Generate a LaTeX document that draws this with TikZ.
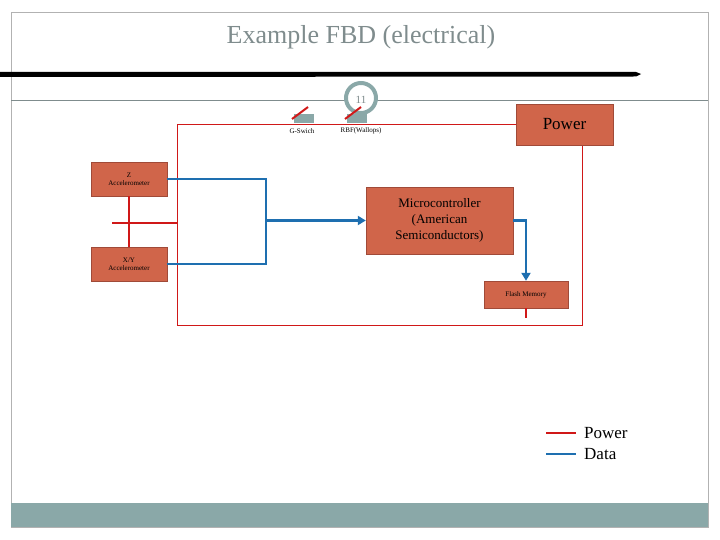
\documentclass[tikz,border=0pt]{standalone}
\usepackage{fontspec}
\setmainfont{Liberation Serif}
\usetikzlibrary{arrows.meta}
\definecolor{boxc}{HTML}{D0654A}
\definecolor{boxb}{HTML}{A04A38}
\definecolor{pw}{HTML}{D01818}
\definecolor{dt}{HTML}{1E6FB0}
\definecolor{gr}{HTML}{8AA8A8}
\definecolor{tg}{HTML}{7F8C8D}
\begin{document}
\begin{tikzpicture}[x=1pt,y=-1pt,
  blk/.style={draw=boxb,fill=boxc,inner sep=0pt,align=center},
  pwr/.style={draw=pw,line width=2.5pt},
  dat/.style={draw=dt,line width=2.5pt},
  tiny/.style={font=\fontsize{7}{8}\selectfont,align=center}]
\useasboundingbox (0,0) rectangle (720,540);
\draw[gray!60] (11,12) rectangle (708,527);
\fill[gr] (11,503) rectangle (708,527);
\node[text=tg,font=\fontsize{26}{28}\selectfont] (title) at (361,37) {Example FBD (electrical)};
\fill (0,72) -- (636,72) -- (641,74) -- (636,76.5) -- (0,77) -- cycle;
\draw[tg] (11,100) -- (708,100);
\draw[gr,line width=4pt,fill=white] (361,98) circle (15);
\node[text=tg,font=\fontsize{11}{12}\selectfont] (pg) at (361,100) {11};
% red frame
\draw[pw,thin] (516,124) -- (177,124) -- (177,325) -- (582,325) -- (582,145);
\node[blk,minimum width=97,minimum height=41,font=\fontsize{17}{19}\selectfont] (power) at (564.5,124.5) {Power};
% switches
\fill[gr] (294,114) rectangle (314,123);
\draw[pw,line width=2pt] (292,119) -- (308,107);
\node[tiny] (gs) at (302,131) {G-Swich};
\fill[gr] (347,114) rectangle (367,123);
\draw[pw,line width=2pt] (345,119) -- (361,107);
\node[tiny] (rbf) at (361,131) {RBF(Wallops)};
% accelerometers
\node[blk,tiny,minimum width=76,minimum height=34] (z) at (129,179) {Z\\Accelerometer};
\node[blk,tiny,minimum width=76,minimum height=34] (xy) at (129,264) {X/Y\\Accelerometer};
\draw[pwr] (z.south) -- (xy.north);
\coordinate (pl) at (112,223);
\coordinate (pr) at (177,223);
\draw[pwr] (pl) -- (pr);
% micro
\node[blk,minimum width=147,minimum height=67,font=\fontsize{13}{16}\selectfont] (mc) at (439.5,220.5) {Microcontroller\\(American\\Semiconductors)};
\node[blk,tiny,minimum width=84,minimum height=27] (fm) at (526,294.5) {Flash Memory};
% data
\coordinate (j) at (266,220.5);
\draw[dat] (z.east) -| (j) |- (xy.east);
\draw[dat,-{Triangle[length=8pt,width=9pt]}] (j) -- (mc.west);
\draw[dat,-{Triangle[length=8pt,width=9pt]}] (mc.east) -| (fm.north);
\coordinate (fs) at (526,318);
\draw[pwr] (fm.south) -- (fs);
% legend
\coordinate (l1a) at (546,433); \coordinate (l1b) at (576,433);
\coordinate (l2a) at (546,454); \coordinate (l2b) at (576,454);
\draw[pwr] (l1a) -- (l1b);
\draw[dat] (l2a) -- (l2b);
\node[anchor=west,font=\fontsize{17}{19}\selectfont,inner sep=0pt] (lp) at (584,433) {Power};
\node[anchor=west,font=\fontsize{17}{19}\selectfont,inner sep=0pt] (ld) at (584,454) {Data};
\end{tikzpicture}
\end{document}
